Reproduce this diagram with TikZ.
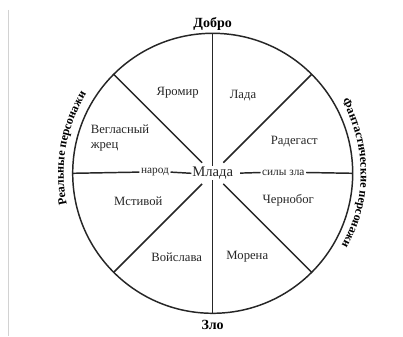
\documentclass[tikz,border=0pt]{standalone}
\usepackage{fontspec}
\setmainfont{Liberation Serif}
\usetikzlibrary{decorations.text}
\definecolor{inkgray}{gray}{0.15}
\tikzset{
  wheelline/.style = {line width=1.1pt,inkgray},
  sector/.style    = {font=\fontsize{9.5}{11.25}\selectfont,text=inkgray},
  tag/.style       = {font=\fontsize{8.5}{10}\selectfont,text=inkgray,fill=white,inner sep=1pt},
  pole/.style      = {font=\bfseries\fontsize{10.5}{12}\selectfont},
  arclabel/.style  = {decorate,decoration={text along path,text align=center,
      text={|\bfseries\fontsize{9}{10}\selectfont|#1}}}
}
\begin{document}
\begin{tikzpicture}[x=0.75pt,y=0.75pt]
  \useasboundingbox[fill=white] (-212.7,-162.7) rectangle (190.3,173.3);
  \draw[gray!35,thin] (-204.7,163.3) -- (-204.7,-162.7);
  % wheel
  \draw[wheelline] (0,0) circle[radius=140];
  \foreach \a in {0,45,...,315} \coordinate (rim\a) at (\a:140);
  \node[tag,font=\fontsize{11}{13}\selectfont,inner sep=0.5pt] (mlada) at (0,0) {Млада};
  \node[tag] (narod) at (-57.7,1.2) {народ};
  \node[tag] (sily)  at (70.6,0.8)  {силы зла};
  \foreach \a in {45,135,225,315} \draw[wheelline] (\a:15) -- (rim\a);
  \draw[wheelline] (rim90) -- (mlada.north);
  \draw[wheelline] (mlada.south) -- (rim270);
  \draw[wheelline] (rim180) -- (narod.west);
  \draw[wheelline] (narod.east) -- (mlada.west);
  \draw[wheelline,shorten <=4.5pt] (mlada.east) -- (sily.west);
  \draw[wheelline] (sily.east) -- (rim0);
  % sectors
  \node[sector] (yaromir)  at (-35,80.6)   {Яромир};
  \node[sector] (lada)     at (30.3,77.6)  {Лада};
  \node[sector,align=left] (zhrec) at (-92.7,35.3) {Вегласный\\жрец};
  \node[sector] (radegast) at (81.6,31.6)  {Радегаст};
  \node[sector] (mstivoy)  at (-74.4,-27.7) {Мстивой};
  \node[sector] (chernobog) at (75.6,-26.7) {Чернобог};
  \node[sector] (voyslava) at (-36,-84.4)  {Войслава};
  \node[sector] (morena)   at (34.6,-83.4) {Морена};
  % poles
  \node[pole] (dobro) at (0,149.3)  {Добро};
  \node[pole] (zlo)   at (0,-151.7) {Зло};
  \path[arclabel=Реальные персонажи] (230:149) arc[start angle=230,end angle=110,radius=149];
  \path[arclabel=Фантастические персонажи] (60:148) arc[start angle=60,end angle=-60,radius=148];
\end{tikzpicture}
\end{document}
